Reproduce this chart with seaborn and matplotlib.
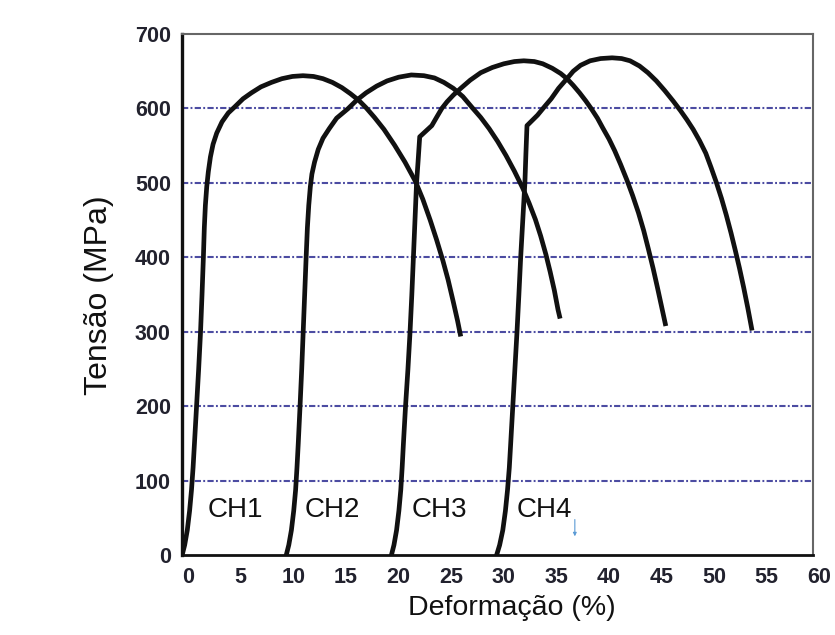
import numpy as np
import pandas as pd
import matplotlib
matplotlib.use("Agg")
import matplotlib.pyplot as plt
import matplotlib.transforms as mtransforms
from matplotlib.ticker import MultipleLocator
import seaborn as sns

sns.set_theme(style="white")
plt.rcParams['font.family'] = ['Liberation Sans', 'DejaVu Sans']

# curves: strain (%) and stress (MPa)
ch1_strain = [0.0, 0.25, 0.5, 0.72, 0.9, 1.05, 1.18, 1.38, 1.58, 1.76, 1.9, 2.03, 2.12, 2.22, 2.35, 2.5, 2.7, 2.95,
              3.3, 3.8, 4.4, 5.0, 5.8, 6.6, 7.5, 8.5, 9.5, 10.5, 11.5, 12.5, 13.4, 14.3, 15.2, 16.0, 16.8,
              17.5, 18.3, 19.2, 20.2, 21.2, 22.2, 22.9, 23.6, 24.2, 24.8, 25.3, 25.8, 26.2, 26.5]
ch1_stress = [0, 14, 34, 60, 88, 118, 150, 200, 250, 300, 350, 400, 440, 470, 495, 515, 535, 552,
              567, 582, 594, 602, 613, 621, 629, 635, 640, 643, 644, 643, 640, 635, 628, 620, 611,
              601, 588, 572, 551, 528, 502, 478, 450, 424, 396, 370, 340, 315, 294]

ch2_strain = [9.9, 10.15, 10.4, 10.62, 10.8, 10.93, 11.05, 11.22, 11.38, 11.52, 11.66, 11.8, 11.92, 12.05, 12.2,
              12.35, 12.6, 12.95, 13.4, 14.0, 14.7, 15.8, 16.6, 17.5, 18.5, 19.5, 20.6, 21.8, 23.0, 24.0,
              24.9, 25.8, 26.7, 27.6, 28.4, 29.2, 30.0, 30.8, 31.6, 32.4, 33.0, 33.6, 34.1, 34.6, 35.0,
              35.4, 35.75, 35.95]
ch2_stress = [0, 14, 34, 60, 88, 118, 150, 200, 250, 300, 350, 400, 440, 470, 495,
              512, 528, 545, 560, 573, 587, 600, 611, 621, 630, 637, 642, 645, 644, 641,
              635, 627, 616, 601, 588, 573, 556, 537, 516, 493, 473, 451, 429, 404, 381,
              356, 330, 318]

ch3_strain = [19.9, 20.15, 20.4, 20.62, 20.8, 20.93, 21.05, 21.25, 21.48, 21.68, 21.85, 22.0, 22.15, 22.3, 22.45,
              22.6, 23.75, 24.2, 24.7, 25.2, 25.8, 26.5, 27.4, 28.4, 29.5, 30.6, 31.6, 32.5, 33.5, 34.3,
              35.2, 36.0, 36.6, 37.2, 37.8, 38.4, 38.9, 39.5, 40.0, 40.6, 41.15, 41.7, 42.3, 42.85, 43.4,
              43.9, 44.35, 44.8, 45.2, 45.6, 46.0]
ch3_stress = [0, 14, 34, 60, 88, 118, 150, 200, 250, 300, 350, 400, 450, 500, 530,
              562, 577, 588, 600, 609, 618, 627, 638, 648, 655, 660, 663, 664, 663, 660,
              654, 647, 640, 631, 621, 610, 600, 587, 574, 559, 543, 525, 504, 483, 460,
              436, 411, 385, 360, 334, 308]

ch4_strain = [29.9, 30.2, 30.5, 30.75, 30.95, 31.12, 31.25, 31.45, 31.65, 31.85, 32.03, 32.2, 32.4, 32.6, 32.7,
              32.8, 33.8, 34.5, 35.1, 35.8, 36.6, 37.2, 37.9, 38.8, 39.8, 40.9, 41.8, 42.6, 43.5, 44.3,
              45.1, 45.9, 46.7, 47.4, 48.0, 48.6, 49.2, 49.8, 50.3, 50.8, 51.3, 51.75, 52.2, 52.6, 53.0,
              53.4, 53.8, 54.2]
ch4_stress = [0, 14, 34, 60, 88, 118, 150, 200, 250, 300, 350, 400, 450, 500, 540,
              577, 591, 603, 613, 627, 640, 650, 658, 664, 667, 668, 667, 664, 657, 648,
              637, 624, 610, 597, 585, 572, 557, 540, 521, 501, 479, 457, 433, 410, 386,
              360, 332, 302]

labels = ["CH1", "CH2", "CH3", "CH4"]
label_x = [2.45, 11.7, 21.8, 31.8]
label_y = 61

x_ticks = list(range(0, 61, 5))
y_ticks = list(range(0, 701, 100))
grid_levels = [100, 200, 300, 400, 500, 600]

curves = [(ch1_strain, ch1_stress), (ch2_strain, ch2_stress),
          (ch3_strain, ch3_stress), (ch4_strain, ch4_stress)]

fig = plt.figure(figsize=(8.35, 6.35), dpi=100)
ax = fig.add_axes([0.218, 0.1252, 0.7557, 0.8213])

for y in grid_levels:
    ax.axhline(y, color='#4c4ca2', lw=1.5, linestyle=(0, (3.0, 1.1, 0.9, 1.1)), zorder=1)

for name, (sx, sy) in zip(labels, curves):
    df = pd.DataFrame({"strain": sx, "stress": sy})
    sns.lineplot(data=df, x="strain", y="stress", sort=False, estimator=None,
                 color='#111111', lw=3.4, ax=ax, zorder=3,
                 solid_joinstyle='round', solid_capstyle='butt')

for lbl, lx in zip(labels, label_x):
    ax.text(lx, label_y, lbl, fontsize=20, ha='left', va='center', color='#111111', zorder=4)

# small blue marker near CH4
ax.annotate('', xy=(37.35, 22), xytext=(37.35, 52),
            arrowprops=dict(arrowstyle='-|>', color='#5b9bd5', lw=0.8, mutation_scale=5))

ax.set_xlim(0, 60)
ax.set_ylim(0, 700)
ax.set_xticks(x_ticks)
ax.set_yticks(y_ticks)
ax.xaxis.set_minor_locator(MultipleLocator(2.5))
ax.yaxis.set_minor_locator(MultipleLocator(50))
ax.tick_params(which='major', direction='in', length=8, width=1.6, color='#111111',
               labelsize=15.5, labelcolor='#22222e', pad=8)
ax.tick_params(which='minor', direction='in', length=4.5, width=1.6, color='#111111')
for t in ax.get_xticklabels() + ax.get_yticklabels():
    t.set_fontweight('bold')
offset = mtransforms.ScaledTranslation(6 / 100, 0, fig.dpi_scale_trans)
for t in ax.get_xticklabels():
    t.set_transform(t.get_transform() + offset)

ax.set_xlabel("Deformação (%)", fontsize=20.5, color='#111111')
ax.set_ylabel("Tensão (MPa)", fontsize=23, color='#111111')
ax.xaxis.set_label_coords(0.522, -0.075)
ax.yaxis.set_label_coords(-0.108, 0.5)

ax.spines['left'].set_color('#111111')
ax.spines['left'].set_linewidth(2.4)
ax.spines['bottom'].set_color('#111111')
ax.spines['bottom'].set_linewidth(2.0)
for s in ['top', 'right']:
    ax.spines[s].set_color('#666666')
    ax.spines[s].set_linewidth(1.5)

fig.savefig("out.png", dpi=100)
